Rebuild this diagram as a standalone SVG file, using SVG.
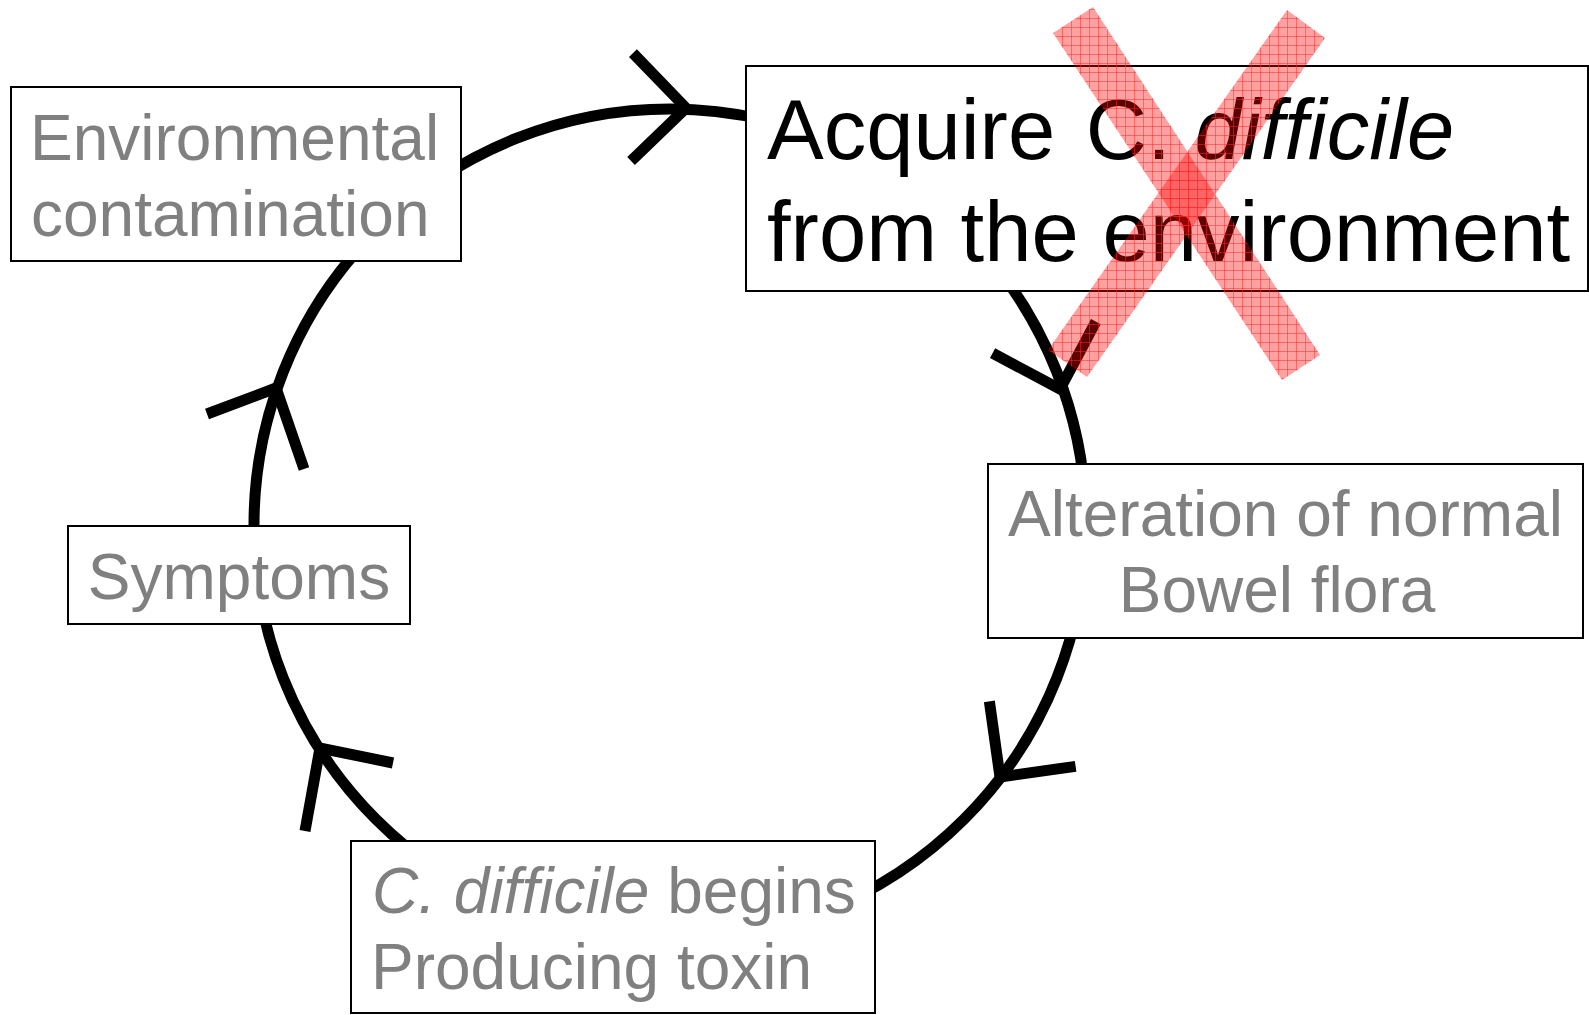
<svg xmlns="http://www.w3.org/2000/svg" width="1589" height="1015" viewBox="0 0 1589 1015">
<style>
.box{fill:#fff;stroke:#000;stroke-width:2}
.t{font-family:"Liberation Sans",Arial,Helvetica,sans-serif;font-size:64px;fill:#808080;font-variant-ligatures:none}
.tb{font-family:"Liberation Sans",Arial,Helvetica,sans-serif;font-size:85px;fill:#000;font-variant-ligatures:none}
.ring{fill:none;stroke:#000;stroke-width:11}
.chev{fill:none;stroke:#000;stroke-width:11;stroke-linejoin:miter;stroke-linecap:butt}
.band{fill:#ff0000;fill-opacity:0.37}
.hatch{fill:url(#grid)}
</style>
<defs>
<path id="chevron" d="M -54 -54 L 0 0 L -54 54"/>
<pattern id="grid" patternUnits="userSpaceOnUse" width="9" height="9">
<path d="M0 0.5 H9 M0.5 0 V9" stroke="#ff2a2a" stroke-opacity="0.5" stroke-width="1" fill="none"/>
</pattern>
</defs>
<rect width="1589" height="1015" fill="#fff"/>
<g id="connectors">
<circle class="ring" cx="670" cy="525" r="416"/>
<use href="#chevron" class="chev" transform="translate(686,108) rotate(1)"/>
<use href="#chevron" class="chev" transform="translate(1060,389) rotate(73)"/>
<use href="#chevron" class="chev" transform="translate(1000,777) rotate(127)"/>
<path class="chev" d="M393,763 L320,748 L305,831"/>
<path class="chev" d="M207,414 L276,388 L304,469"/>
</g>
<g id="node-environmental">
<rect class="box" x="11" y="87" width="450" height="174"/>
<text class="t" x="30" y="160">Environmental</text>
<text class="t" x="31" y="236">contamination</text>
</g>
<g id="node-acquire">
<rect class="box" x="746" y="66" width="842" height="225"/>
<text class="tb" x="767" y="159">Acquire <tspan dx="7">C.</tspan> <tspan font-style="italic">difficile</tspan></text>
<text class="tb" x="767" y="261">from the environment</text>
</g>
<g id="node-alteration">
<rect class="box" x="988" y="464" width="595" height="174"/>
<text class="t" x="1285.5" y="536" text-anchor="middle">Alteration of normal</text>
<text class="t" x="1277" y="612" text-anchor="middle">Bowel flora</text>
</g>
<g id="node-toxin">
<rect class="box" x="351" y="841" width="524" height="172"/>
<text class="t" x="372" y="913"><tspan font-style="italic">C. difficile</tspan> begins</text>
<text class="t" x="371" y="989">Producing toxin</text>
</g>
<g id="node-symptoms">
<rect class="box" x="68" y="526" width="342" height="98"/>
<text class="t" x="239" y="599" text-anchor="middle">Symptoms</text>
</g>
<g id="cross">
<polygon class="band" points="1053,33 1093,7 1320,355 1282,380"/>
<polygon class="hatch" points="1053,33 1093,7 1320,355 1282,380"/>
<polygon class="band" points="1287,10 1325,38 1087,377 1048,350"/>
<polygon class="hatch" points="1287,10 1325,38 1087,377 1048,350"/>
</g>
</svg>
